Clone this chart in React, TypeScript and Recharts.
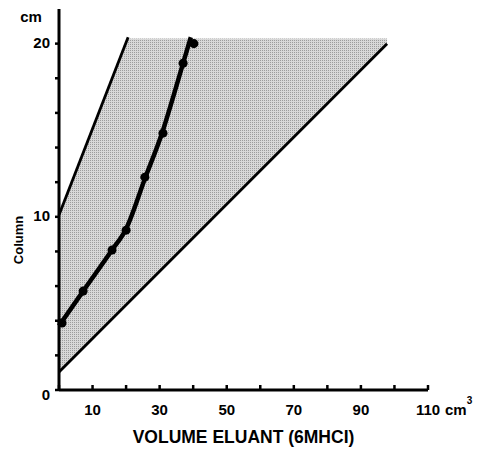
import { ComposedChart, XAxis, YAxis, Area, Line, Scatter } from "recharts";

// axis ticks
const xTicks = [0, 10, 20, 30, 40, 50, 60, 70, 80, 90, 100, 110];
const xTickLabels = [10, 30, 50, 70, 90, 110];
const yTicks = [0, 2, 4, 6, 8, 10, 12, 14, 16, 18, 20];
const yTickLabels = [0, 10, 20];

// measured points (volume cm3, column cm)
const pointX = [0.9, 7.2, 15.8, 20.0, 25.6, 31.0, 37.0, 40.2];
const pointY = [3.87, 5.71, 8.08, 9.23, 12.29, 14.83, 18.87, 20.0];

// fitted curve through the points
const curveX = [0, 7.2, 15.8, 20.0, 25.6, 31.0, 34.0, 37.0, 39.3];
const curveY = [3.7, 5.71, 8.08, 9.3, 12.2, 15.0, 16.9, 18.87, 20.37];

// boundary lines
const upperX = [0, 20.6];
const upperY = [10.1, 20.37];
const lowerX = [0, 97.8];
const lowerY = [1.04, 20.0];

// shaded band between the boundary lines
const bandX = [0, 20.6, 97.8];
const bandLow = [1.04, 5.03, 20.0];
const bandHigh = [10.1, 20.3, 20.3];

const zip = (xs: number[], ys: number[]) => xs.map((x, i) => ({ x, y: ys[i] }));

const points = zip(pointX, pointY);
const curve = zip(curveX, curveY);
const upper = zip(upperX, upperY);
const lower = zip(lowerX, lowerY);
const band = bandX.map((x, i) => ({ x, range: [bandLow[i], bandHigh[i]] }));

const FONT = "'Liberation Sans', Arial, sans-serif";

function XTick({ x, y, payload }: any) {
  const v = payload.value;
  return (
    <g>
      <line x1={x} x2={x} y1={y} y2={y - 5} stroke="#000" strokeWidth={2.5} />
      {xTickLabels.includes(v) && (
        <text x={x} y={y + 25} textAnchor="middle" fontSize={15} fontWeight="bold" fontFamily={FONT} fill="#000">
          {v}
        </text>
      )}
      {v === 110 && (
        <text x={x + 17} y={y + 25} fontSize={15} fontWeight="bold" fontFamily={FONT} fill="#000">
          cm
          <tspan dy={-11} fontSize={10}>3</tspan>
        </text>
      )}
    </g>
  );
}

function YTick({ x, y, payload }: any) {
  const v = payload.value;
  return (
    <g>
      <line x1={x - 4} x2={x} y1={y} y2={y} stroke="#000" strokeWidth={2.5} />
      {yTickLabels.includes(v) && (
        <text x={x - 9} y={y + (v === 0 ? 10 : 4)} textAnchor="end" fontSize={15} fontWeight="bold" fontFamily={FONT} fill="#000">
          {v}
        </text>
      )}
      {v === 20 && (
        <text x={x - 28} y={y - 22} textAnchor="middle" fontSize={15} fontWeight="bold" fontFamily={FONT} fill="#000">
          cm
        </text>
      )}
    </g>
  );
}

export default function App() {
  return (
    <div style={{ position: "absolute", left: 0, top: 0, background: "#fff" }}>
      <ComposedChart width={487} height={452} margin={{ top: 9, right: 59, bottom: 0, left: 0 }}>
        <defs>
          <pattern id="stipple" width={2} height={2} patternUnits="userSpaceOnUse">
            <rect width={2} height={2} fill="#d8d8d8" />
            <rect width={1} height={1} fill="#9c9c9c" />
          </pattern>
        </defs>
        <XAxis
          type="number"
          dataKey="x"
          domain={[0, 110]}
          ticks={xTicks}
          height={62}
          tickLine={false}
          tickSize={0}
          tickMargin={0}
          axisLine={{ stroke: "#000", strokeWidth: 3 }}
          tick={<XTick />}
          label={{
            value: "VOLUME ELUANT (6MHCI)",
            position: "insideBottom",
            offset: 9,
            fontSize: 17.5,
            fontWeight: "bold",
            fontFamily: FONT,
            fill: "#000",
          }}
        />
        <YAxis
          type="number"
          domain={[0, 22]}
          ticks={yTicks}
          width={59}
          tickLine={false}
          tickSize={0}
          tickMargin={0}
          axisLine={{ stroke: "#000", strokeWidth: 3 }}
          tick={<YTick />}
          label={{
            content: () => (
              <text
                x={23}
                y={240}
                transform="rotate(-90, 23, 240)"
                textAnchor="middle"
                fontSize={13}
                fontWeight="bold"
                fontFamily={FONT}
                fill="#000"
              >
                Column
              </text>
            ),
          }}
        />
        <Area
          data={band}
          dataKey="range"
          type="linear"
          stroke="none"
          fill="url(#stipple)"
          fillOpacity={1}
          isAnimationActive={false}
        />
        <Line data={upper} dataKey="y" type="linear" stroke="#000" strokeWidth={2.8} dot={false} isAnimationActive={false} />
        <Line data={lower} dataKey="y" type="linear" stroke="#000" strokeWidth={2.8} dot={false} isAnimationActive={false} />
        <Line data={curve} dataKey="y" type="monotone" stroke="#000" strokeWidth={4.5} dot={false} isAnimationActive={false} />
        <Scatter data={points} dataKey="y" fill="#000" isAnimationActive={false} />
      </ComposedChart>
    </div>
  );
}
